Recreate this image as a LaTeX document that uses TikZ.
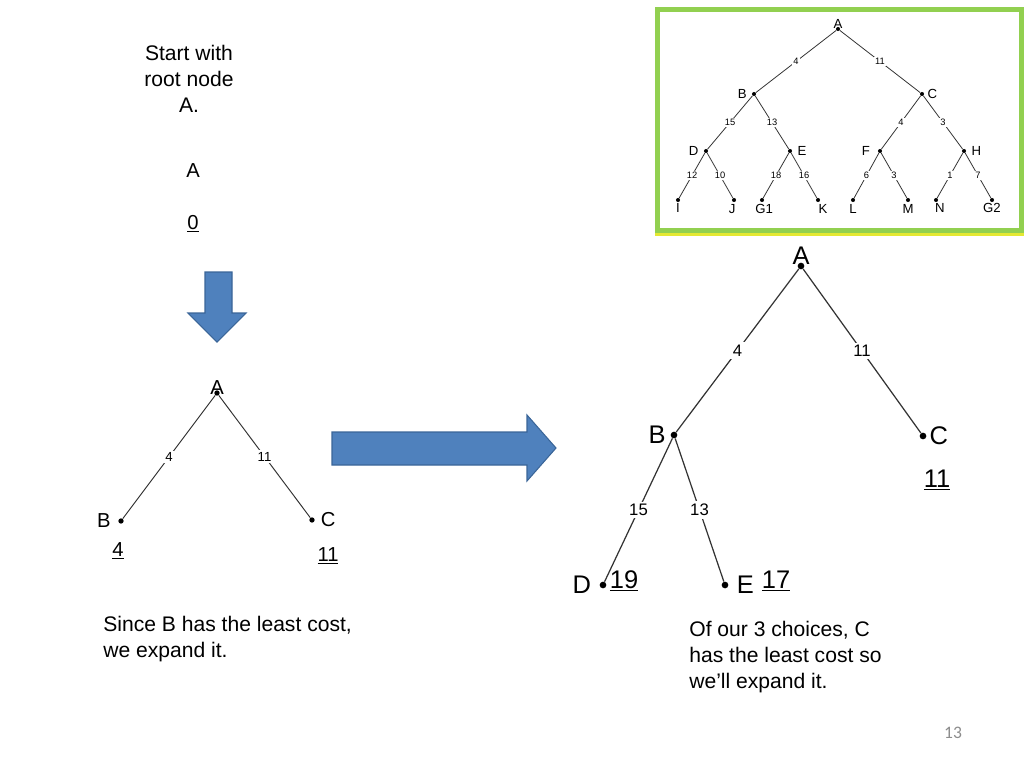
\documentclass[tikz,border=0pt]{standalone}
\usepackage{fontspec}
\setmainfont{Liberation Sans}
\newfontfamily\slidefont{Carlito}
\usetikzlibrary{positioning}
\definecolor{Ink}{HTML}{333333}
\definecolor{Block}{HTML}{4F81BD}
\definecolor{BlockLine}{HTML}{3A6598}
\definecolor{Frame}{HTML}{92D050}
\definecolor{FrameLow}{HTML}{E4E832}
\definecolor{PageNo}{HTML}{8C8C8C}

\begin{document}
\begin{tikzpicture}[x=0.02cm,y=-0.02cm,inner sep=0pt,
note/.style={font=\fontsize{12}{14.7}\selectfont,align=left},
bigdot/.style={circle,fill=black,minimum size=3.8pt},
smalldot/.style={circle,fill=black,minimum size=3pt},
minidot/.style={circle,fill=black,minimum size=2.3pt},
bigedge/.style={draw=Ink,line width=0.7pt},
smalledge/.style={draw=Ink,line width=0.55pt},
miniedge/.style={draw=Ink,line width=0.45pt},
bigtxt/.style={font=\fontsize{14.5}{17}\selectfont},
smalltxt/.style={font=\fontsize{11.5}{13}\selectfont},
minitxt/.style={font=\fontsize{7.5}{8}\selectfont},
bigw/.style={fill=white,inner sep=1.5pt,font=\fontsize{9.5}{10}\selectfont},
smallw/.style={fill=white,inner sep=1pt,font=\fontsize{7.5}{8}\selectfont},
miniw/.style={fill=white,inner sep=0.6pt,font=\fontsize{5.3}{6}\selectfont},
blockarrow/.style={fill=Block,draw=BlockLine,line width=0.6pt,line join=miter}]
\useasboundingbox (0,0) rectangle (1024,768);

% start
\node[note,anchor=north,align=center] (intro) at (189,45) {Start with\\root node\\A.};
\node[smalltxt,anchor=base] (rootA) at (193,177) {A};
\node[smalltxt,anchor=base] (root0) at (193,229) {\underline{0}};
\draw[blockarrow] (205,272) -- (232,272) -- (232,313) -- (246,313) -- (217,342) -- (188,313) -- (205,313) -- cycle;

% first expansion
\node[smalldot] (sA) at (217,393) {};
\node[smalldot] (sB) at (121,521) {};
\node[smalldot] (sC) at (312,520) {};
\node[smalltxt,above=-2.5pt of sA] (sAt) {A};
\node[smalltxt,left=4pt of sB] (sBt) {B};
\node[smalltxt,right=3.2pt of sC] (sCt) {C};
\draw[smalledge] (sA) -- node[smallw] (sw4) {4} (sB);
\draw[smalledge] (sA) -- node[smallw] (sw11) {11} (sC);
\node[smalltxt,anchor=base] (sBc) at (118,556) {\underline{4}};
\node[smalltxt,anchor=base] (sCc) at (328,561) {\underline{11}};
\node[note,anchor=north west] (why1) at (103,616) {Since B has the least cost,\\we expand it.};

\draw[blockarrow] (332,432) -- (527,432) -- (527,415) -- (556,448) -- (527,481) -- (527,465) -- (332,465) -- cycle;

% second expansion
\node[bigdot] (bA) at (801,266) {};
\node[bigdot] (bB) at (674,435) {};
\node[bigdot] (bC) at (923,436) {};
\node[bigdot] (bD) at (603,585) {};
\node[bigdot] (bE) at (725,585) {};
\node[bigtxt,above=-1.5pt of bA] (bAt) {A};
\node[bigtxt,left=2.5pt of bB] (bBt) {B};
\node[bigtxt,right=1.5pt of bC] (bCt) {C};
\node[bigtxt,left=4.5pt of bD] (bDt) {D};
\node[bigtxt,right=4.5pt of bE] (bEt) {E};
\draw[bigedge] (bA) -- node[bigw] (bw4) {4} (bB);
\draw[bigedge] (bA) -- node[bigw] (bw11) {11} (bC);
\draw[bigedge] (bB) -- node[bigw] (bw15) {15} (bD);
\draw[bigedge] (bB) -- node[bigw] (bw13) {13} (bE);
\node[bigtxt,anchor=base] (bCc) at (937,487) {\underline{11}};
\node[bigtxt,anchor=base] (bDc) at (624,588) {\underline{19}};
\node[bigtxt,anchor=base] (bEc) at (776,588) {\underline{17}};
\node[note,anchor=north west] (why2) at (689,621) {Of our 3 choices, C\\has the least cost so\\we’ll expand it.};

% full tree
\draw[Frame,line width=3.1pt] (657.75,9.75) rectangle (1021.25,230.25);
\draw[FrameLow,line width=1.7pt] (655,234.5) -- (1024,234.5);
\node[minidot] (mA) at (838,29) {};
\node[minidot] (mB) at (754,94) {};
\node[minidot] (mC) at (922,94) {};
\node[minidot] (mD) at (706,151) {};
\node[minidot] (mE) at (790,151) {};
\node[minidot] (mF) at (880,151) {};
\node[minidot] (mH) at (964,151) {};
\node[minidot] (mI) at (678,200) {};
\node[minidot] (mJ) at (734,200) {};
\node[minidot] (mG1) at (762,200) {};
\node[minidot] (mK) at (818,200) {};
\node[minidot] (mL) at (853,200) {};
\node[minidot] (mM) at (908,200) {};
\node[minidot] (mN) at (936,200) {};
\node[minidot] (mG2) at (992,200) {};
\node[minitxt,above=-1pt of mA] (mAt) {A};
\node[minitxt,left=2.6pt of mB] (mBt) {B};
\node[minitxt,right=1.6pt of mC] (mCt) {C};
\node[minitxt,left=2.8pt of mD] (mDt) {D};
\node[minitxt,right=2.8pt of mE] (mEt) {E};
\node[minitxt,left=4.2pt of mF] (mFt) {F};
\node[minitxt,right=2.8pt of mH] (mHt) {H};
\node[minitxt,below=0.4pt of mI] (mIt) {I};
\node[minitxt,below=0.8pt of mJ,xshift=-1pt] (mJt) {J};
\node[minitxt,below=0.8pt of mG1,xshift=1.2pt] (mG1t) {G1};
\node[minitxt,below=0.8pt of mK,xshift=2.8pt] (mKt) {K};
\node[minitxt,below=1.2pt of mL] (mLt) {L};
\node[minitxt,below=1.2pt of mM] (mMt) {M};
\node[minitxt,below=0.4pt of mN,xshift=2.2pt] (mNt) {N};
\node[minitxt,below=0.4pt of mG2] (mG2t) {G2};
\draw[miniedge] (mA) -- node[miniw] {4} (mB);
\draw[miniedge] (mA) -- node[miniw] {11} (mC);
\draw[miniedge] (mB) -- node[miniw] {15} (mD);
\draw[miniedge] (mB) -- node[miniw] {13} (mE);
\draw[miniedge] (mC) -- node[miniw] {4} (mF);
\draw[miniedge] (mC) -- node[miniw] {3} (mH);
\draw[miniedge] (mD) -- node[miniw] {12} (mI);
\draw[miniedge] (mD) -- node[miniw] {10} (mJ);
\draw[miniedge] (mE) -- node[miniw] {18} (mG1);
\draw[miniedge] (mE) -- node[miniw] {16} (mK);
\draw[miniedge] (mF) -- node[miniw] {6} (mL);
\draw[miniedge] (mF) -- node[miniw] {3} (mM);
\draw[miniedge] (mH) -- node[miniw] {1} (mN);
\draw[miniedge] (mH) -- node[miniw] {7} (mG2);

\node[font=\slidefont\fontsize{10}{12}\selectfont,text=PageNo] (page) at (953,733) {13};
\end{tikzpicture}
\end{document}
